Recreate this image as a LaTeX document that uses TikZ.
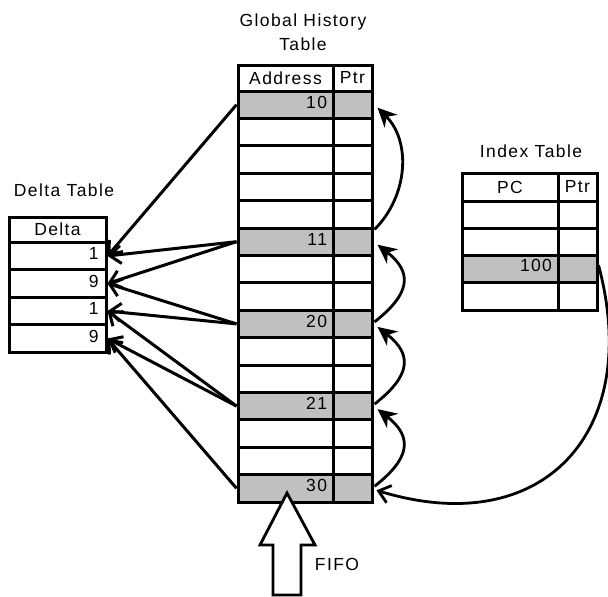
\documentclass[tikz,border=0pt]{standalone}
\usepackage{fontspec}
\setmainfont{Liberation Sans}[LetterSpace=8]
\usetikzlibrary{arrows.meta}
\newcommand\lab{\fontsize{17.5}{24}\selectfont}
\definecolor{cellgray}{RGB}{192,192,192}
\tikzset{
  every node/.style={font=\lab},
  cell/.style={draw, line width=3pt, inner sep=0pt, inner xsep=6pt, minimum height=27.4pt, align=right},
  hcell/.style={draw, line width=3pt, inner sep=0pt, align=center},
  link/.style={line width=3pt, -{Straight Barb[length=11pt, width=18pt]}},
  hop/.style={line width=2.8pt, -{Stealth[length=19pt, width=18pt, inset=6pt]}}
}
\begin{document}
\begin{tikzpicture}[x=1pt,y=1pt]
\useasboundingbox (0,0) rectangle (608,-597);

% ---------------- Global History Table ----------------
\node at (303,-32) [align=center, text depth=0pt] {Global History\\Table};
\node[hcell, minimum width=95pt, minimum height=26pt] (gh) at (285.5,-78) {Address};
\node[hcell, minimum width=39pt, minimum height=26pt] (ph) at (352.5,-78) {Ptr};
\foreach \i/\v/\f in {0/10/cellgray, 1//white, 2//white, 3//white, 4//white,
                      5/11/cellgray, 6//white, 7//white, 8/20/cellgray, 9//white,
                      10//white, 11/21/cellgray, 12//white, 13//white, 14/30/cellgray} {
  \node[cell, fill=\f, minimum width=95pt, text width=83pt, text depth=5pt] (g\i)
    at (285.5,{-(104.7+27.4*\i)}) {\v};
  \node[cell, fill=\f, minimum width=39pt] (p\i) at (352.5,{-(104.7+27.4*\i)}) {};
}

% ---------------- Delta Table ----------------
\node at (64,-190) {Delta Table};
\node[hcell, minimum width=97pt, minimum height=25pt] (dh) at (57.5,-229.5) {Delta};
\foreach \i/\v in {1/1, 2/9, 3/1, 4/9} {
  \node[cell, fill=white, minimum width=97pt, minimum height=27.5pt, text width=82pt, text depth=5pt] (d\i)
    at (57.5,{-(228.5+27.5*\i)}) {\v};
}

% ---------------- Index Table ----------------
\node at (531,-151) {Index Table};
\node[hcell, minimum width=96pt, minimum height=28pt] (ih) at (510,-187) {PC};
\node[hcell, minimum width=39pt, minimum height=28pt] (qh) at (577.5,-187) {Ptr};
\foreach \i/\v/\f in {1//white, 2//white, 3/100/cellgray, 4//white} {
  \node[cell, fill=\f, minimum width=96pt, minimum height=27.25pt, text width=84pt, text depth=7pt] (i\i)
    at (510,{-(187.4+27.25*\i)}) {\v};
  \node[cell, fill=\f, minimum width=39pt, minimum height=27.25pt] (q\i)
    at (577.5,{-(187.4+27.25*\i)}) {};
}

% ---------------- history entries -> deltas ----------------
\draw[link] (g0.west) -- (d1.east);
\draw[link] (g5.west) -- (d1.east);
\draw[link] (g5.west) -- (d2.east);
\draw[link] (g8.west) -- (d2.east);
\draw[link] (g8.west) -- (d3.east);
\draw[link] (g11.west) -- (d3.east);
\draw[link] (g11.west) -- (d4.east);
\draw[link] (g14.west) -- (d4.east);

% ---------------- pointer chain ----------------
\draw[hop] ([shift={(1pt,-3pt)}]p5.north east) to[out=45, in=-45, looseness=1.0]
           ([shift={(4pt,-3pt)}]p0.east);
\draw[hop] ([shift={(1pt,2pt)}]p8.east) to[out=38, in=-38, looseness=1.5]
           ([shift={(4pt,-3pt)}]p5.east);
\draw[hop] ([shift={(1pt,2pt)}]p11.east) to[out=38, in=-38, looseness=1.5]
           ([shift={(4pt,-3pt)}]p8.east);
\draw[hop] ([shift={(1pt,2pt)}]p14.east) to[out=38, in=-38, looseness=1.5]
           ([shift={(4pt,-3pt)}]p11.east);

% index entry -> newest history entry
\draw[link, line width=2.8pt] ([yshift=4pt]q3.east) to[out=-75, in=-17, looseness=1.4]
           ([shift={(3pt,-2pt)}]p14.east);

% ---------------- FIFO insertion arrow ----------------
\draw[line width=2.8pt, fill=white, line join=miter]
  (287,-493) -- (315,-545) -- (301,-545) -- (301,-595) -- (273,-595)
  -- (273,-545) -- (260,-545) -- cycle;
\node at (337,-564) {FIFO};
\end{tikzpicture}
\end{document}
